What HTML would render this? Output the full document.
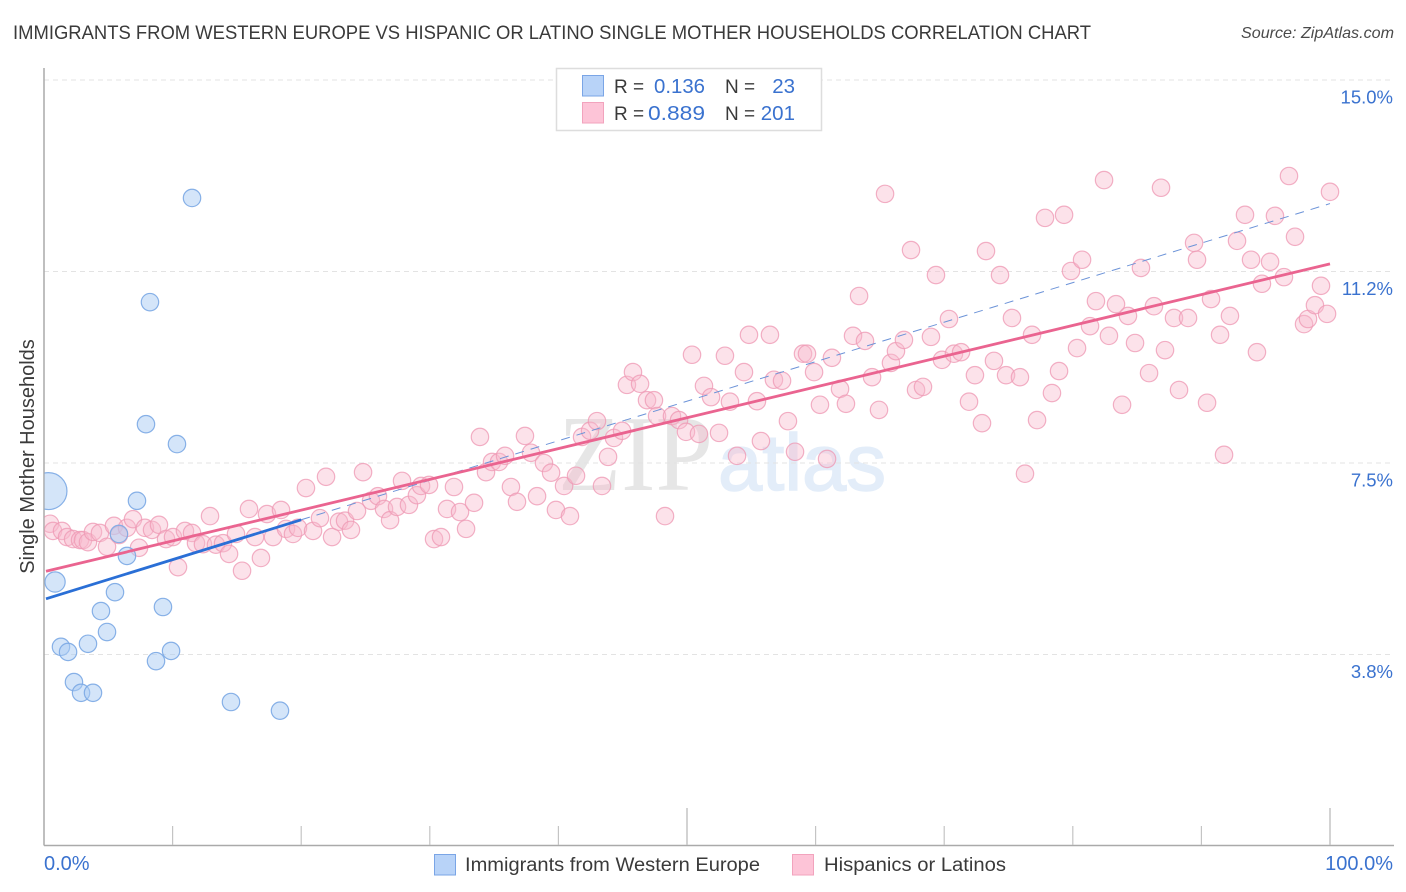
<!DOCTYPE html>
<html lang="en">
<head>
<meta charset="utf-8">
<title>Immigrants from Western Europe vs Hispanic or Latino Single Mother Households Correlation Chart</title>
<style>
html,body{margin:0;padding:0;background:#fff;}
body{width:1406px;height:892px;overflow:hidden;}
svg{display:block;}
text{font-family:"Liberation Sans",Arial,sans-serif;}
</style>
</head>
<body>
<svg id="chart" xmlns="http://www.w3.org/2000/svg" width="1406" height="892" viewBox="0 0 1406 892">
  <defs>
    <clipPath id="plot-clip"><rect x="44.5" y="60" width="1350" height="785"/></clipPath>
  </defs>
  <rect x="0" y="0" width="1406" height="892" fill="#ffffff"/>
  <text x="13" y="39" font-size="19" fill="#3a3a3a" textLength="1078" lengthAdjust="spacingAndGlyphs">IMMIGRANTS FROM WESTERN EUROPE VS HISPANIC OR LATINO SINGLE MOTHER HOUSEHOLDS CORRELATION CHART</text>
  <text x="1394" y="38" font-size="16" font-style="italic" fill="#4a4a4a" text-anchor="end" textLength="153" lengthAdjust="spacingAndGlyphs">Source: ZipAtlas.com</text>

  <g>
    <text x="558" y="490" font-size="108" fill="#e6e6e6" textLength="155" lengthAdjust="spacingAndGlyphs" style="font-family:'Liberation Serif',serif">ZIP</text>
    <text x="718" y="490" font-size="80" fill="#e3edf9" stroke="#e3edf9" stroke-width="1.5" textLength="168" lengthAdjust="spacingAndGlyphs">atlas</text>
  </g>

  <g id="grid"></g>
  <g id="axes"></g>
  <g id="pink-points" clip-path="url(#plot-clip)"></g>
  <g id="blue-points" clip-path="url(#plot-clip)"></g>
  <g id="trends"></g>

  <text transform="translate(34,456.5) rotate(-90)" font-size="20" fill="#3a3a3a" text-anchor="middle">Single Mother Households</text>

  <g>
    <rect x="556.5" y="68.5" width="265" height="62" fill="#ffffff" stroke="#dddddd" stroke-width="1.5"/>
    <rect x="582.5" y="75.5" width="21" height="20.5" fill="#b8d3f8" stroke="#7aa5e6" stroke-width="1"/>
    <rect x="582.5" y="102.5" width="21" height="20.5" fill="#fdc4d7" stroke="#f2a3bd" stroke-width="1"/>
    <text x="614" y="93" font-size="19" fill="#3a3a3a">R =</text>
    <text x="654" y="93" font-size="20.5" fill="#3a72cf" textLength="51" lengthAdjust="spacingAndGlyphs">0.136</text>
    <text x="725" y="93" font-size="19" fill="#3a3a3a">N =</text>
    <text x="795" y="93" font-size="20.5" fill="#3a72cf" text-anchor="end">23</text>
    <text x="614" y="120" font-size="19" fill="#3a3a3a">R =</text>
    <text x="648" y="120" font-size="20.5" fill="#3a72cf" textLength="57" lengthAdjust="spacingAndGlyphs">0.889</text>
    <text x="725" y="120" font-size="19" fill="#3a3a3a">N =</text>
    <text x="795" y="120" font-size="20.5" fill="#3a72cf" text-anchor="end">201</text>
  </g>

  <g>
    <rect x="434.5" y="854.5" width="21" height="20.5" fill="#b8d3f8" stroke="#7aa5e6" stroke-width="1"/>
    <text x="465" y="871" font-size="19" fill="#3a3a3a" textLength="295" lengthAdjust="spacingAndGlyphs">Immigrants from Western Europe</text>
    <rect x="792.5" y="854.5" width="21" height="20.5" fill="#fdc4d7" stroke="#f2a3bd" stroke-width="1"/>
    <text x="824" y="871" font-size="19" fill="#3a3a3a" textLength="182" lengthAdjust="spacingAndGlyphs">Hispanics or Latinos</text>
  </g>
</svg>
<script>
const xTickValues = [10,20,30,40,50,60,70,80,90,100];
const xMajorTicks = [50,100];
const yTickValues = [3.75,7.5,11.25,15];
const yTickLabels = ["3.8%","7.5%","11.2%","15.0%"];
const xEndLabels = ["0.0%","100.0%"];

const blueX = [0.35,0.86,11.51,8.24,7.93,10.34,7.23,5.83,6.45,5.52,4.43,9.25,4.90,1.32,1.87,3.42,9.88,8.71,2.33,2.88,3.81,14.54,18.35];
const blueY = [6.95,5.17,12.69,10.65,8.26,7.87,6.76,6.11,5.68,4.97,4.60,4.68,4.19,3.90,3.80,3.96,3.82,3.62,3.21,3.00,3.00,2.82,2.65];
const blueWeight = [4.5,1.35,1,1,1,1,1,1,1,1,1,1,1,1,1,1,1,1,1,1,1,1,1];

const pinkX = [0.47,0.70,1.40,1.79,2.26,2.80,3.03,3.42,3.81,4.35,4.90,5.44,5.83,6.45,6.92,7.39,7.85,8.40,8.94,9.49,10.03,10.42,10.96,11.51,11.82,12.36,12.91,13.37,13.92,14.39,14.93,15.40,15.94,16.41,16.87,17.34,17.81,18.43,18.82,19.36,19.75,20.37,20.92,21.46,21.93,22.40,22.94,23.41,23.87,24.34,24.81,25.43,25.97,26.44,26.91,27.45,27.84,28.38,29.00,29.32,29.94,30.33,30.87,31.34,31.88,32.35,32.82,33.44,33.90,34.37,34.84,35.38,35.85,36.31,36.78,37.40,37.87,38.34,38.88,39.43,39.81,40.44,40.90,41.37,41.84,42.46,43.00,43.39,43.86,44.32,44.95,45.33,45.80,46.35,46.89,47.43,47.67,48.29,48.83,49.38,49.92,50.39,50.93,51.32,51.87,52.49,52.95,53.34,53.89,54.43,54.82,55.44,55.75,56.45,56.76,57.39,57.85,58.40,59.02,59.33,59.88,60.34,60.89,61.27,61.90,62.36,62.91,63.38,63.84,64.39,64.93,65.40,65.86,66.25,66.87,67.42,67.81,68.35,68.97,69.36,69.83,70.37,70.76,71.31,71.93,72.39,72.94,73.25,73.87,74.34,74.81,75.27,75.89,76.28,76.83,77.22,77.84,78.38,78.93,79.32,79.86,80.33,80.72,81.34,81.80,82.43,82.81,83.36,83.83,84.29,84.84,85.30,85.93,86.31,86.86,87.17,87.87,88.26,88.96,89.43,89.66,90.44,90.75,91.45,91.76,92.22,92.77,93.39,93.86,94.32,94.71,95.34,95.72,96.42,96.81,97.28,97.98,98.29,98.83,99.30,99.77,100];
const pinkY = [6.31,6.17,6.17,6.05,6.01,5.99,5.99,5.95,6.15,6.13,5.86,6.27,6.09,6.23,6.40,5.84,6.23,6.19,6.29,6.01,6.05,5.46,6.17,6.13,5.93,5.91,6.46,5.90,5.93,5.72,6.11,5.39,6.60,6.05,5.64,6.50,6.05,6.58,6.21,6.11,6.23,7.01,6.17,6.42,7.23,6.05,6.35,6.37,6.19,6.56,7.32,6.76,6.85,6.60,6.38,6.64,7.15,6.68,6.87,7.05,7.07,6.01,6.05,6.60,7.03,6.54,6.21,6.72,8.01,7.32,7.52,7.52,7.64,7.03,6.74,8.03,7.70,6.85,7.50,7.31,6.58,7.05,6.46,7.25,8.01,8.13,8.32,7.05,7.62,7.99,8.13,9.03,9.28,9.05,8.73,8.73,8.42,6.46,8.42,8.34,8.11,9.62,8.07,9.01,8.79,8.09,9.60,8.70,7.64,9.28,10.01,8.71,7.93,10.01,9.13,9.11,8.32,7.72,9.64,9.64,9.28,8.64,7.58,9.56,8.95,8.66,9.99,10.77,9.89,9.18,8.54,12.77,9.46,9.69,9.91,11.67,8.93,8.99,9.97,11.18,9.52,10.32,9.64,9.67,8.70,9.22,8.28,11.65,9.50,11.18,9.22,10.34,9.18,7.29,10.01,8.34,12.30,8.87,9.30,12.36,11.26,9.75,11.48,10.18,10.67,13.04,9.99,10.61,8.64,10.38,9.85,11.32,9.26,10.57,12.89,9.71,10.34,8.93,10.34,11.81,11.48,8.68,10.71,10.01,7.66,10.38,11.85,12.36,11.48,9.67,11.01,11.44,12.34,11.14,13.12,11.93,10.22,10.32,10.59,10.97,10.42,12.81];

const blueTrendStart = 4.84;
const blueTrendEnd = 12.58;
const blueSolidUntil = 20;
const pinkTrendStart = 5.38;
const pinkTrendEnd = 11.40;

const SVG_NS = "http://www.w3.org/2000/svg";
function xScale(v){ return 44 + v * 12.86; }
function yScale(v){ return 80 + (15 - v) * 574.5 / 11.25; }
function make(tag, attrs, parent){
  const el = document.createElementNS(SVG_NS, tag);
  for (const k in attrs) el.setAttribute(k, attrs[k]);
  parent.appendChild(el);
  return el;
}
function lerp(a, b, t){ return a + (b - a) * t; }

const gridG = document.getElementById("grid");
const axesG = document.getElementById("axes");
const pinkG = document.getElementById("pink-points");
const blueG = document.getElementById("blue-points");
const trendG = document.getElementById("trends");

yTickValues.forEach(function(v, i){
  const g = make("line", {x1:44, x2:1394, y1:yScale(v), y2:yScale(v), stroke:"#e3e3e3", "stroke-width":1, "stroke-dasharray":"5 4"}, gridG);
  
  
  const t = make("text", {x:1393, y:yScale(v) + 23.5, "font-size":18.5, fill:"#3a72cf", "text-anchor":"end"}, axesG);
  t.textContent = yTickLabels[i];
  
  
});

const yAxis = make("line", {x1:44, x2:44, y1:68, y2:845.5, stroke:"#aaaaaa", "stroke-width":1.5}, axesG);


const xAxis = make("line", {x1:44, x2:1394, y1:845.5, y2:845.5, stroke:"#aaaaaa", "stroke-width":1.5}, axesG);



xTickValues.forEach(function(v){
  const major = xMajorTicks.indexOf(v) >= 0;
  const tick = make("line", {x1:xScale(v), x2:xScale(v), y1:major ? 808 : 826, y2:845, stroke:"#c4c4c4", "stroke-width":major ? 1.5 : 1.2}, axesG);
  
  
});

const xLabelLeft = make("text", {x:44, y:870, "font-size":20, fill:"#3a72cf"}, axesG);
xLabelLeft.textContent = xEndLabels[0];


const xLabelRight = make("text", {x:1393, y:870, "font-size":20, fill:"#3a72cf", "text-anchor":"end"}, axesG);
xLabelRight.textContent = xEndLabels[1];



pinkX.forEach(function(v, i){
  const c = make("circle", {cx:xScale(v), cy:yScale(pinkY[i]), r:8.7, fill:"#f9b9cd", "fill-opacity":0.42, stroke:"#ee9ab5", "stroke-opacity":0.78, "stroke-width":1.2}, pinkG);
  
  
});

blueX.forEach(function(v, i){
  const c = make("circle", {cx:xScale(v), cy:yScale(blueY[i]), r:8.7 * Math.sqrt(blueWeight[i]), fill:"#a9cbf3", "fill-opacity":0.5, stroke:"#7ba8e4", "stroke-opacity":0.9, "stroke-width":1.2}, blueG);
  
  
});

const blueDash = make("line", {x1:xScale(blueSolidUntil), y1:yScale(lerp(blueTrendStart, blueTrendEnd, blueSolidUntil / 100)), x2:xScale(100), y2:yScale(blueTrendEnd), stroke:"#6c93d8", "stroke-width":1, "stroke-dasharray":"9 7"}, trendG);


const blueSolid = make("line", {x1:xScale(0) + 2, y1:yScale(blueTrendStart), x2:xScale(blueSolidUntil), y2:yScale(lerp(blueTrendStart, blueTrendEnd, blueSolidUntil / 100)), stroke:"#2a6fd6", "stroke-width":2.8}, trendG);


const pinkSolid = make("line", {x1:xScale(0) + 2, y1:yScale(pinkTrendStart), x2:xScale(100), y2:yScale(pinkTrendEnd), stroke:"#ea6490", "stroke-width":2.8}, trendG);


</script>
</body>
</html>
